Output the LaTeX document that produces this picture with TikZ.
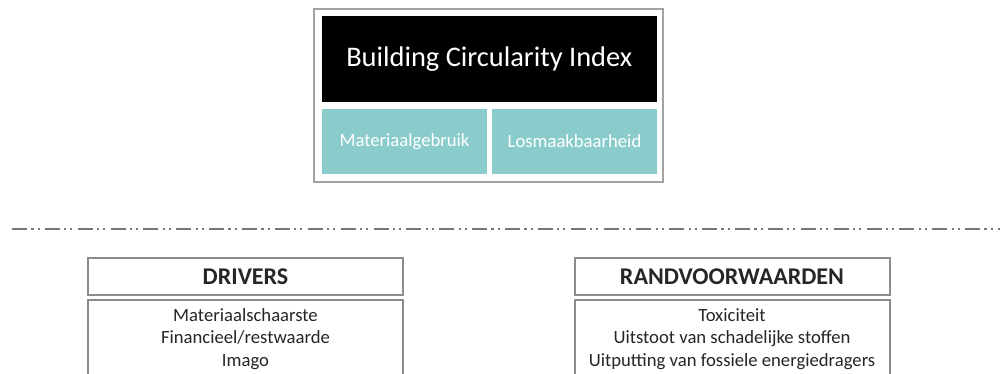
\documentclass[tikz,border=0pt]{standalone}
\usepackage{fontspec}
\setmainfont{Carlito}
\definecolor{teal1}{HTML}{8ACCCC}
\definecolor{frame}{HTML}{8C8C8C}
\definecolor{ink}{HTML}{262626}
\begin{document}
\begin{tikzpicture}[x=0.75pt,y=-0.75pt,
  box/.style={draw=frame,line width=1.5pt,fill=white,inner sep=0pt,minimum width=#1},
  box/.default=236.25pt,
  tealbox/.style={fill=teal1,inner sep=0pt,minimum width=123.75pt,minimum height=48.75pt,
    text=white,font=\fontsize{14pt}{16pt}\selectfont},
  head/.style={box,minimum height=27.75pt,text=ink,font=\bfseries\fontsize{18pt}{20pt}\selectfont},
  body/.style={box,minimum height=75pt},
  bodytext/.style={align=center,text=ink,inner sep=0pt,font=\fontsize{14pt}{16.7pt}\selectfont},
  sep/.style={draw=frame!85!black,line width=2pt,dash pattern=on 11.25pt off 3.2pt on 1.7pt off 3pt on 1.5pt off 4pt}]
  \useasboundingbox (0,0) rectangle (1000,374);
  % index block
  \node[box=261.75pt,minimum height=129.75pt,draw=frame!80] (outer) at (488.5,95.5) {};
  \node[fill=black,inner sep=0pt,minimum width=251.6pt,minimum height=64.5pt,text=white,
    font=\fontsize{21.3pt}{24pt}\selectfont] (bci) at (489.25,59) {Building Circularity Index};
  \node[tealbox] (mat) at (404.5,141.5) {Materiaalgebruik};
  \node[tealbox] (los) at (574.5,141.5) {Losmaakbaarheid};
  % separator line
  \coordinate (sepL) at (12,229);
  \coordinate (sepR) at (1000,229);
  \draw[sep] (sepL) -- (sepR);
  % drivers
  \node[body] (drvbody) at (245.5,350) {};
  \node[head] (drvhead) at (245.5,276.5) {DRIVERS};
  \node[bodytext] (drvtext) at (245.5,339) {Materiaalschaarste\\Financieel/restwaarde\\Imago};
  % boundary conditions
  \node[body] (rvbody) at (732,350) {};
  \node[head] (rvhead) at (732,276.5) {RANDVOORWAARDEN};
  \node[bodytext] (rvtext) at (732,339) {Toxiciteit\\Uitstoot van schadelijke stoffen\\Uitputting van fossiele energiedragers};
\end{tikzpicture}
\end{document}
